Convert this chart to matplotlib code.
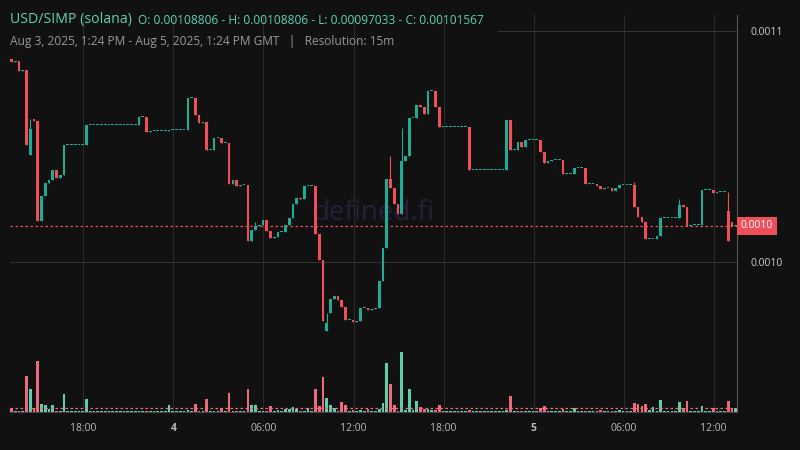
import matplotlib
matplotlib.use("Agg")
import matplotlib.pyplot as plt
import numpy as np

plt.rcParams["font.family"] = "Open Sans"

# close prices in micro-USD (x1e-6), 15m candles
closes_u = [
    1086.6, 1087.0, 1082.7, 1083.1, 1050.6, 1061.9, 1061.0, 1017.7, 1028.6, 1034.2,
    1035.5, 1039.8, 1036.4, 1037.7, 1050.6, 1050.6, 1050.6, 1050.6, 1050.6, 1050.6,
    1059.3, 1059.3, 1059.3, 1059.3, 1059.3, 1059.3, 1059.3, 1059.3, 1059.3, 1059.3,
    1059.3, 1059.3, 1059.3, 1059.3, 1062.8, 1062.8, 1056.3, 1056.7, 1056.7, 1056.7,
    1056.7, 1056.7, 1057.1, 1057.1, 1057.1, 1057.1, 1057.1, 1071.0, 1071.0, 1063.6,
    1060.2, 1060.6, 1048.5, 1048.5, 1053.7, 1053.7, 1051.5, 1051.5, 1033.8, 1035.5,
    1032.9, 1033.3, 1033.3, 1009.1, 1013.9, 1015.6, 1016.0, 1018.2, 1013.4, 1010.4,
    1010.8, 1013.0, 1013.0, 1016.0, 1019.0, 1025.1, 1027.7, 1027.3, 1032.9, 1032.9,
    1032.9, 1012.1, 1000.9, 974.5, 977.9, 984.0, 985.3, 983.5, 980.5, 974.9,
    974.9, 974.0, 974.5, 980.1, 980.1, 979.2, 979.7, 980.1, 991.8, 1006.1,
    1035.9, 1032.0, 1025.1, 1020.8, 1043.7, 1045.9, 1062.3, 1062.3, 1068.0, 1067.1,
    1064.1, 1074.0, 1074.0, 1067.1, 1058.4, 1058.4, 1058.4, 1058.4, 1058.4, 1058.4,
    1058.4, 1058.4, 1039.8, 1039.8, 1039.8, 1039.8, 1039.8, 1039.8, 1039.8, 1039.8,
    1039.8, 1039.8, 1061.5, 1048.5, 1048.5, 1051.9, 1049.8, 1052.8, 1052.8, 1052.8,
    1052.8, 1047.6, 1042.9, 1043.7, 1044.2, 1044.2, 1044.2, 1038.1, 1038.1, 1038.1,
    1040.7, 1040.7, 1040.7, 1033.8, 1033.8, 1033.8, 1032.9, 1031.6, 1032.0, 1032.0,
    1030.7, 1032.0, 1033.3, 1033.3, 1033.3, 1033.3, 1023.8, 1019.5, 1017.3, 1010.0,
    1010.0, 1010.0, 1011.3, 1019.0, 1019.0, 1019.0, 1019.0, 1019.0, 1024.7, 1023.8,
    1015.6, 1016.0, 1016.0, 1016.0, 1031.2, 1031.2, 1031.2, 1029.9, 1030.3, 1030.3,
    1030.3, 1017.3, 1015.6, 1015.67,
]
first_open_u = 1088.06
wick_idx = [0, 5, 84, 101, 104, 166, 178, 191, 65]
wick_hi_u = [1088.06, 1061.9, 977.9, 1045.9, 1058.0, 1034.6, 1027.3, 1030.3, 1017.5]
wick_lo_u = [1086.6, 1046.3, 970.33, 1032.0, 1020.8, 1023.8, 1024.7, 1009.1, 1013.9]

vol_idx = [0, 4, 5, 6, 7, 8, 9, 10, 11, 14, 20, 42, 47, 49, 52, 56, 58, 63, 64, 65,
           69, 71, 73, 74, 75, 76, 79, 81, 82, 83, 84, 85, 86, 88, 89, 91, 93, 95, 98, 99,
           100, 101, 102, 104, 105, 106, 107, 108, 109, 110, 111, 112, 113, 114, 122, 132, 133,
           141, 142, 147, 150, 157, 162, 166, 167, 168, 169, 170, 171, 173, 178, 179, 180,
           184, 187, 191, 192, 193]
vol_val = [4, 36, 23, 4, 51, 8, 7, 3, 7, 18, 13, 7, 2, 8, 13, 4, 19, 23, 7, 7,
           6, 2, 3, 3, 5, 3, 4, 23, 6, 35, 14, 7, 4, 10, 7, 2, 2, 3, 3, 9,
           49, 28, 7, 60, 2, 23, 2, 11, 5, 3, 3, 2, 2, 7, 2, 2, 16,
           4, 6, 3, 4, 2, 2, 9, 8, 6, 8, 2, 5, 12, 10, 4, 11,
           6, 4, 11, 3, 4]

tick_pos = [19.15 + 24 * k for k in range(8)]
tick_labels = ["18:00", "4", "06:00", "12:00", "18:00", "5", "06:00", "12:00"]

UP = "#22ab94"
DN = "#f04e58"
BG = "#111111"

c = np.array(closes_u) * 1e-6
n = len(c)
o = np.concatenate([[first_open_u * 1e-6], c[:-1]])
hi = np.maximum(o, c)
lo = np.minimum(o, c)
for i, h, l in zip(wick_idx, wick_hi_u, wick_lo_u):
    hi[i] = max(hi[i], h * 1e-6)
    lo[i] = min(lo[i], l * 1e-6)
up = c >= o
cols = np.where(up, UP, DN)
x = np.arange(n)

fig = plt.figure(figsize=(8, 4.5), dpi=100, facecolor=BG)
L, R = 10 / 800, 737 / 800
ax = fig.add_axes([L, (450 - 412) / 450, R - L, (412 - 15) / 450])
ax.set_facecolor(BG)
def pix2p(y):
    return (1000 + (262 - y) * 0.4329) * 1e-6
ax.set_ylim(pix2p(412), pix2p(15))
ax.set_xlim(-0.4, 193.35)

for t in tick_pos:
    ax.axvline(t, color="#2a2a2a", lw=0.8, zorder=0)
ax.axhline(0.0010, color="#333333", lw=0.8, zorder=0)
ax.plot([(498 - 10) / 3.76, 193.35], [0.0011, 0.0011], color="#333333", lw=0.8, zorder=0)

ax.text(0.5, 0.5, "defined.fi", transform=ax.transAxes, ha="center", va="center",
        fontsize=20, color="#23203a", zorder=0.5)

body = np.maximum(np.abs(c - o), 0.45e-6)
ax.vlines(x, lo, hi, colors=cols, lw=0.8, zorder=2)
ax.bar(x, body, bottom=lo, width=0.72, color=cols, zorder=3, linewidth=0)

last = c[-1]
ax.axhline(last, color=DN, lw=0.9, ls=(0, (2, 2)), zorder=1)

for s in ax.spines.values():
    s.set_visible(False)
ax.spines["right"].set_visible(True)
ax.spines["right"].set_color("#555555")
ax.spines["bottom"].set_visible(True)
ax.spines["bottom"].set_color("#444444")
ax.yaxis.tick_right()
ax.set_yticks([0.0010, 0.0011])
ax.set_yticklabels(["0.0010", "0.0011"], color="#cccccc", fontsize=7.5)
ax.tick_params(axis="y", length=0, pad=10)
ax.set_xticks(tick_pos)
ax.set_xticklabels(tick_labels, color="#bbbbbb", fontsize=7.5)
for lbl, t in zip(ax.get_xticklabels(), tick_labels):
    if t in ("4", "5"):
        lbl.set_fontweight("bold")
ax.tick_params(axis="x", length=0, pad=8)
ax.text(1.005, last, "0.0010", transform=ax.get_yaxis_transform(), ha="left", va="center",
        fontsize=7.5, color="white",
        bbox=dict(boxstyle="square,pad=0.35", fc=DN, ec="none"))

vax = fig.add_axes([L, (450 - 412) / 450, R - L, 90 / 450])
vax.patch.set_alpha(0)
vol = np.ones(n) * 0.8
for i, v in zip(vol_idx, vol_val):
    vol[i] = v
vcols = np.where(up, "#5ccfae", "#ee6b7e")
vax.bar(x, vol, width=0.72, color=vcols, linewidth=0)
vax.axhline(4, color="#ee6b7e", lw=0.9, ls=(0, (2, 2)))
vax.set_xlim(ax.get_xlim())
vax.set_ylim(0, 90)
vax.axis("off")

fig.text(10 / 800, 1 - 20 / 450, "USD/SIMP (solana)", color="#5fd0b0", fontsize=10.2, va="center")
fig.text(138 / 800, 1 - 20 / 450, "O: 0.00108806 - H: 0.00108806 - L: 0.00097033 - C: 0.00101567",
         color="#5fd0b0", fontsize=8.6, va="center")
fig.text(10 / 800, 1 - 41 / 450,
         "Aug 3, 2025, 1:24 PM - Aug 5, 2025, 1:24 PM GMT   |   Resolution: 15m",
         color="#999999", fontsize=8.6, va="center")

fig.savefig("out.png", facecolor=BG)
